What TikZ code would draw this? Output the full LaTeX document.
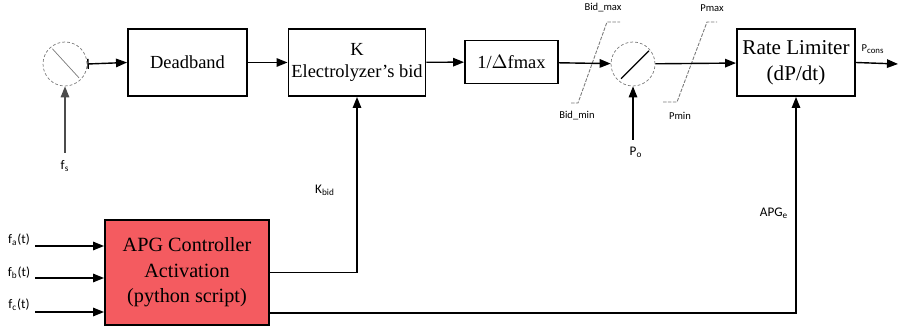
\documentclass[tikz,border=0pt]{standalone}
\usepackage{fontspec}
\setmainfont{Liberation Serif}
\newfontfamily\lblfont{Carlito}
\usetikzlibrary{arrows.meta, positioning}
\definecolor{apgred}{HTML}{F45B60}
\definecolor{sumgray}{HTML}{7A7A7A}
\tikzset{
  blkbox/.style={draw=black,line width=1.1pt,align=center,inner sep=1pt,font=\fontsize{10.5}{13}\selectfont},
  ctrlbox/.style={blkbox,fill=apgred,font=\fontsize{11.5}{14.5}\selectfont},
  sumnode/.style={circle,draw=sumgray,dash pattern=on 1.6pt off 1.2pt,minimum size=0.88cm,inner sep=0pt},
  sig/.style={-{Triangle[length=2.2mm,width=1.7mm]},line width=0.8pt,black},
  satline/.style={draw=sumgray,semithin,dash pattern=on 2pt off 0.8pt},
  semithin/.style={line width=0.5pt},
  lbl/.style={font=\lblfont\fontsize{7.5}{9}\selectfont,inner sep=0pt},
  tinylbl/.style={font=\lblfont\fontsize{6}{7}\selectfont,inner sep=0pt},
}

\begin{document}
\begin{tikzpicture}[x=0.02cm,y=-0.02cm]
  \useasboundingbox (0,0) rectangle (899,327);
  % blocks of the main path
  \node[sumnode] (sumF) at (65,64) {};
  \node[blkbox,minimum width=2.38cm,minimum height=1.34cm] (deadband) at (187.5,62.5) {Deadband};
  \node[blkbox,minimum width=2.74cm,minimum height=1.34cm] (kbid) at (357,62.5) {K\\Electrolyzer's bid};
  \node[blkbox,minimum width=1.86cm,minimum height=0.86cm] (dfmax) at (511.5,62) {1/$\Delta$fmax};
  \node[sumnode] (swP) at (633,64) {};
  \node[blkbox,minimum width=2.36cm,minimum height=1.34cm,font=\fontsize{12}{15}\selectfont] (ratelim) at (796,62.5) {Rate Limiter\\(dP/dt)};
  \node[ctrlbox,minimum width=3.28cm,minimum height=2.1cm] (apg) at (187,272.5) {APG Controller\\Activation\\(python script)};
  \draw[sumgray,thin,shorten <=1.5pt,shorten >=1.5pt] (sumF.130) -- (sumF.-45);
  \draw[black,line width=0.7pt,shorten <=2pt,shorten >=1pt] (swP.-130) -- (swP.40);
  % saturation limits
  \draw[satline] (571,103) -- (578,103) -- (607,22) -- (620,22);
  \draw[satline] (663,102) -- (677,102) -- (707,22) -- (717,22);
  \node[tinylbl] (bidmax) at (603,8) {Bid\_max};
  \node[tinylbl] (bidmin) at (577,116) {Bid\_min};
  \node[tinylbl] (pmax) at (712,8) {Pmax};
  \node[tinylbl] (pmin) at (680,116) {Pmin};
  % main signal path
  \coordinate (fIn) at (65,153);
  \coordinate (pIn) at (633,140);
  \coordinate (pOut) at (898,64);
  \draw[sig,draw=black!70] (fIn) -- (sumF.south);
  \node[lbl] (fLbl) at (65,166) {f\textsubscript{s}};
  \draw[sig,{Bar[width=2mm]}-{Triangle[length=2.2mm,width=1.7mm]}] (sumF.east) -- (deadband.west);
  \draw[sig] (deadband) -- (kbid);
  \draw[sig] (kbid) -- (dfmax);
  \draw[sig] (dfmax) -- (swP);
  \draw[sig] (swP) -- (ratelim);
  \draw[sig] (ratelim.east) -- (pOut);
  \node[tinylbl] (pconsLbl) at (873,49) {P\textsubscript{cons}};
  \draw[sig] (pIn) -- (swP.south);
  \node[lbl] (pLbl) at (636,152) {P\textsubscript{o}};
  % controller inputs
  \foreach \yy/\yl/\sub [count=\i] in {246/240/a, 278/273/b, 312/305/c}{
    \coordinate (in\i) at (35,\yy);
    \node[lbl] (inLbl\i) at (19,\yl) {f\textsubscript{\sub}(t)};
    \draw[sig] (in\i) -- (in\i -| apg.west);
  }
  % controller outputs
  \coordinate (apgTap) at (269,313);
  \draw[sig] (apg.east) -| (kbid.south);
  \node[lbl] (kLbl) at (325,190) {K\textsubscript{bid}};
  \draw[sig] (apgTap) -| (ratelim.south);
  \node[lbl] (apgLbl) at (774,213) {APG\textsubscript{e}};
\end{tikzpicture}
\end{document}
